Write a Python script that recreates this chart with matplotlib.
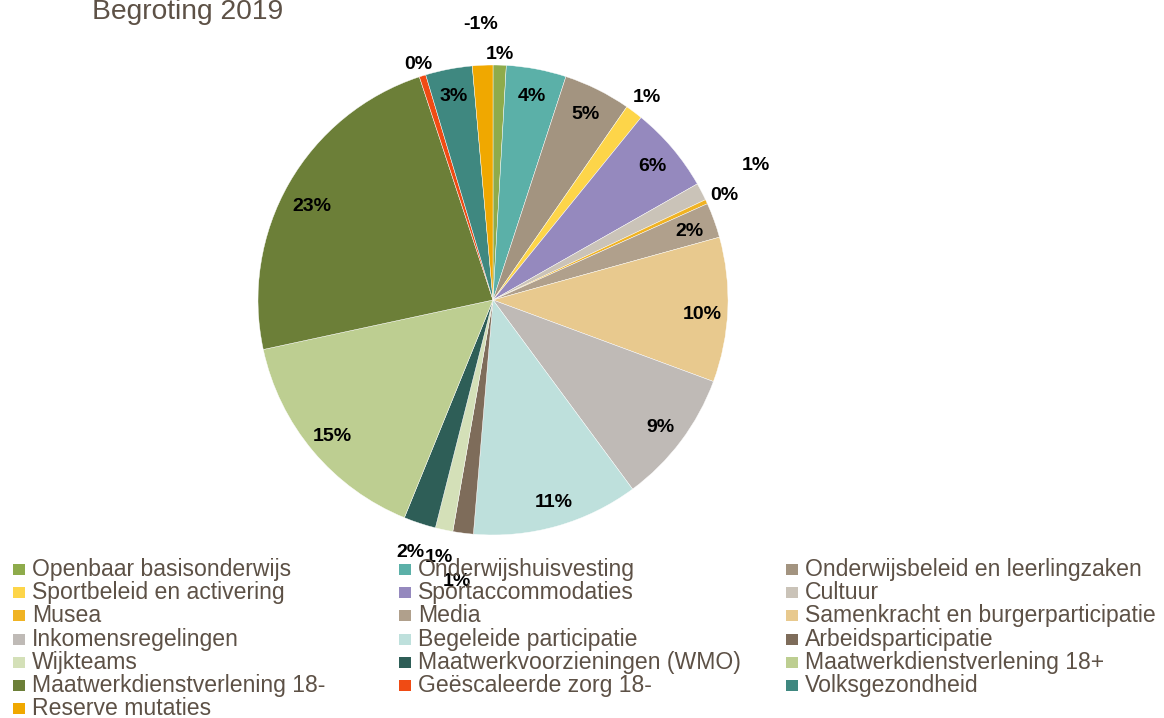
import matplotlib
matplotlib.use('Agg')
import matplotlib.pyplot as plt
from matplotlib.patches import Rectangle
import numpy as np

plt.rcParams['font.family'] = ['Liberation Sans', 'DejaVu Sans']

categories = [
    'Openbaar basisonderwijs', 'Onderwijshuisvesting', 'Onderwijsbeleid en leerlingzaken',
    'Sportbeleid en activering', 'Sportaccommodaties', 'Cultuur',
    'Musea', 'Media', 'Samenkracht en burgerparticipatie',
    'Inkomensregelingen', 'Begeleide participatie', 'Arbeidsparticipatie',
    'Wijkteams', 'Maatwerkvoorzieningen (WMO)', 'Maatwerkdienstverlening 18+',
    'Maatwerkdienstverlening 18-', 'Geëscaleerde zorg 18-', 'Volksgezondheid',
    'Reserve mutaties',
]
# aandeel in de begroting (geschat uit de figuur)
values = [0.9, 4.1, 4.6, 1.2, 5.9, 1.2, 0.3, 2.4, 9.9, 9.2, 11.4, 1.4,
          1.2, 2.2, 15.4, 23.2, 0.45, 3.2, -1.4]
colors = ['#8eab4b', '#5bb0a8', '#a39480', '#fdd549', '#9589be', '#cac3b8',
          '#f0b323', '#b0a08c', '#e8c98e', '#bfbab6', '#bee0dc', '#7e6c5a',
          '#d4e0b8', '#2e5e57', '#bdce91', '#6c7f38', '#f04b14', '#3f8880',
          '#f0a800']
# afstand van het label tot het midden (fractie van de straal) en hoekcorrectie
label_r = [1.055, 0.89, 0.89, 1.09, 0.89, 1.26, 1.085, 0.89, 0.89, 0.89, 0.89,
           1.2, 1.11, 1.12, 0.89, 0.87, 1.06, 0.89, 1.18]
label_da = [0, 0, 0, 0, 0, 0, 0, 0, -1, 0, 1, 0, 0, 0, 0, 2, 0, 0, 0]

W, H = 1164, 718
fig = plt.figure(figsize=(W / 100, H / 100), dpi=100)
cx, cy, R = 493, 300, 235
ax = fig.add_axes([(cx - R) / W, (H - cy - R) / H, 2 * R / W, 2 * R / H])

vals = np.array(values)
total = np.abs(vals).sum()
wedges, _ = ax.pie(np.abs(vals), colors=colors, startangle=90, counterclock=False,
                   radius=1, wedgeprops=dict(edgecolor='white', linewidth=0.3))
ax.set_xlim(-1, 1)
ax.set_ylim(-1, 1)
ax.set_aspect('equal')
ax.axis('off')

for w, v, r, da in zip(wedges, vals, label_r, label_da):
    mid = np.deg2rad((w.theta1 + w.theta2) / 2 + da)
    ax.text(r * np.cos(mid), r * np.sin(mid), f'{round(v / total * 100):.0f}%',
            ha='center', va='center_baseline', fontsize=14, fontweight='bold',
            color='black', clip_on=False)

txt_color = '#5d5146'
fig.text(92 / W, 1 - 19 / H, 'Begroting 2019', fontsize=20.3, color=txt_color,
         ha='left', va='baseline')

# legenda, rij voor rij
marker_x = [13, 399, 786]
text_x = [32, 418, 805]
for i, name in enumerate(categories):
    row, col = i // 3, i % 3
    base = 576 + 23.2 * row
    fig.patches.append(Rectangle((marker_x[col] / W, 1 - (base - 1) / H), 12 / W, 11 / H,
                                 transform=fig.transFigure, facecolor=colors[i],
                                 edgecolor='none'))
    fig.text(text_x[col] / W, 1 - base / H, name, fontsize=16.6, color=txt_color,
             ha='left', va='baseline')

fig.savefig('out.png', dpi=100)
